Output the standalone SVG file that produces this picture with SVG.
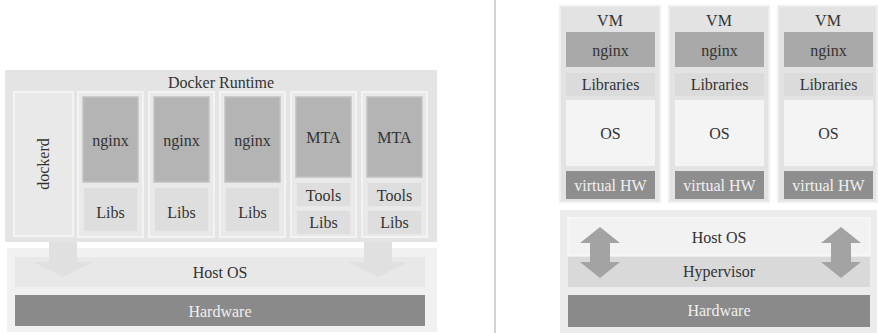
<svg xmlns="http://www.w3.org/2000/svg" width="878" height="333" viewBox="0 0 878 333">
<style>
text{font-family:"Liberation Serif","Times New Roman",serif;font-size:16px;fill:#333;text-anchor:middle;dominant-baseline:central}
.lt{fill:#f0f0f0}
.col{fill:#e9e9e9;stroke:#f3f3f3;stroke-width:2}
.app{fill:#b4b4b4;stroke:#c2c2c2;stroke-width:1.5}
.lib{fill:#dedede;stroke:#eaeaea;stroke-width:1.5}
.vm{fill:#e3e3e3;stroke:#efefef;stroke-width:2}
.vapp{fill:#a9a9a9}
.vlib{fill:#dbdbdb}
.vos{fill:#f4f4f4}
.vhw{fill:#8e8e8e}
.hw{fill:#8a8a8a}
.darr{fill:#e0e0e0}
.varr{fill:#a3a3a3}
</style>
<line x1="495" y1="0" x2="495" y2="333" stroke="#d4d4d4" stroke-width="2"/>
<g id="docker-runtime">
<rect x="5" y="70" width="432" height="172" fill="#e4e4e4"/>
<text x="221" y="82">Docker Runtime</text>
</g>
<g id="dockerd">
<rect class="col" x="14" y="92" width="59" height="144"/>
<text transform="translate(43,164) rotate(-90)">dockerd</text>
</g>
<g id="c1">
<rect class="col" x="78" y="92" width="65" height="145"/>
<rect class="app" x="83" y="97" width="55" height="85"/><text x="110.5" y="140">nginx</text>
<rect class="lib" x="83" y="187" width="55" height="45"/><text x="110.5" y="212">Libs</text>
</g>
<g id="c2">
<rect class="col" x="149" y="92" width="65" height="145"/>
<rect class="app" x="154" y="97" width="55" height="85"/><text x="181.5" y="140">nginx</text>
<rect class="lib" x="154" y="187" width="55" height="45"/><text x="181.5" y="212">Libs</text>
</g>
<g id="c3">
<rect class="col" x="220" y="92" width="65" height="145"/>
<rect class="app" x="225" y="97" width="55" height="85"/><text x="252.5" y="140">nginx</text>
<rect class="lib" x="225" y="187" width="55" height="45"/><text x="252.5" y="212">Libs</text>
</g>
<g id="c4">
<rect class="col" x="291" y="92" width="65" height="145"/>
<rect class="app" x="296" y="97" width="55" height="80"/><text x="323.5" y="137">MTA</text>
<rect class="lib" x="296" y="182" width="55" height="25"/><text x="323.5" y="195">Tools</text>
<rect class="lib" x="296" y="210" width="55" height="25"/><text x="323.5" y="222">Libs</text>
</g>
<g id="c5">
<rect class="col" x="362" y="92" width="65" height="145"/>
<rect class="app" x="367" y="97" width="55" height="80"/><text x="394.5" y="137">MTA</text>
<rect class="lib" x="367" y="182" width="55" height="25"/><text x="394.5" y="195">Tools</text>
<rect class="lib" x="367" y="210" width="55" height="25"/><text x="394.5" y="222">Libs</text>
</g>
<g id="host-left">
<rect x="7" y="248" width="430" height="84" fill="#f1f1f1"/>
<rect x="15" y="257" width="410" height="30" fill="#e8e8e8"/>
<text x="220" y="272">Host OS</text>
</g>
<g id="hw-left">
<rect class="hw" x="15" y="295" width="410" height="31"/>
<text class="lt" x="220" y="311">Hardware</text>
</g>
<g id="vm1">
<rect class="vm" x="560" y="6" width="100" height="196"/>
<text x="610" y="20">VM</text>
<rect class="vapp" x="566" y="32" width="89" height="35"/><text x="610.5" y="50">nginx</text>
<rect class="vlib" x="566" y="73" width="89" height="23"/><text x="610.5" y="84">Libraries</text>
<rect class="vos" x="566" y="100" width="89" height="66"/><text x="610.5" y="133">OS</text>
<rect class="vhw" x="566" y="171" width="89" height="28"/><text class="lt" x="610.5" y="185">virtual HW</text>
</g>
<g id="vm2">
<rect class="vm" x="669" y="6" width="100" height="196"/>
<text x="719" y="20">VM</text>
<rect class="vapp" x="675" y="32" width="89" height="35"/><text x="719.5" y="50">nginx</text>
<rect class="vlib" x="675" y="73" width="89" height="23"/><text x="719.5" y="84">Libraries</text>
<rect class="vos" x="675" y="100" width="89" height="66"/><text x="719.5" y="133">OS</text>
<rect class="vhw" x="675" y="171" width="89" height="28"/><text class="lt" x="719.5" y="185">virtual HW</text>
</g>
<g id="vm3">
<rect class="vm" x="778" y="6" width="99" height="196"/>
<text x="828" y="20">VM</text>
<rect class="vapp" x="784" y="32" width="89" height="35"/><text x="828.5" y="50">nginx</text>
<rect class="vlib" x="784" y="73" width="89" height="23"/><text x="828.5" y="84">Libraries</text>
<rect class="vos" x="784" y="100" width="89" height="66"/><text x="828.5" y="133">OS</text>
<rect class="vhw" x="784" y="171" width="89" height="28"/><text class="lt" x="828.5" y="185">virtual HW</text>
</g>
<g id="host-right">
<rect x="560" y="210" width="317" height="123" fill="#ececec"/>
<rect x="568" y="218" width="302" height="37" fill="#f2f2f2" stroke="#f8f8f8" stroke-width="1.5"/>
<text x="719" y="237">Host OS</text>
</g>
<g id="hypervisor">
<rect x="568" y="257" width="302" height="30" fill="#d9d9d9"/>
<text x="719" y="271">Hypervisor</text>
</g>
<g id="hw-right">
<rect class="hw" x="568" y="295" width="302" height="32"/>
<text class="lt" x="719" y="310">Hardware</text>
</g>
<g id="connectors">
<polygon class="darr" points="49,242 77,242 77,262 93,262 63,277 33,262 49,262"/>
<polygon class="darr" points="364,242 392,242 392,262 408,262 378,277 348,262 364,262"/>
<polygon class="varr" points="600,227 620,243 610,243 610,262 620,262 600,278 580,262 590,262 590,243 580,243"/>
<polygon class="varr" points="841,227 861,243 851,243 851,262 861,262 841,278 821,262 831,262 831,243 821,243"/>
</g>
</svg>
